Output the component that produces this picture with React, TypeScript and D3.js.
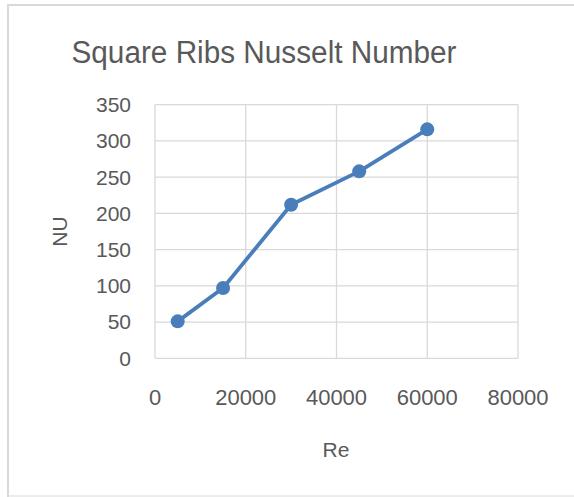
import React from "react";
import * as d3 from "d3";

const reValues = [5000, 15000, 30000, 45000, 60000];
const nuValues = [51, 97, 212, 258, 316];
const xTicks = [0, 20000, 40000, 60000, 80000];
const yTicks = [0, 50, 100, 150, 200, 250, 300, 350];
const title = "Square Ribs Nusselt Number";
const xTitle = "Re";
const yTitle = "NU";

const W = 574;
const H = 497;
const plot = { left: 155, right: 518, top: 104.7, bottom: 358.3 };
const grid = "#d9d9d9";
const textColor = "#595959";
const lineColor = "#4a7ebb";
const font = "'Liberation Sans', Arial, sans-serif";

export default function App() {
  const x = d3.scaleLinear().domain([0, 80000]).range([plot.left, plot.right]);
  const y = d3.scaleLinear().domain([0, 350]).range([plot.bottom, plot.top]);
  const pts = reValues.map((r, i) => [x(r), y(nuValues[i])] as [number, number]);
  const line = d3.line()(pts) || "";
  return (
    <svg
      width={W}
      height={H}
      style={{ position: "absolute", left: 0, top: 0, background: "#fff" }}
    >
      <rect x={0} y={0} width={W} height={H} fill="#fff" />
      <path d={`M8,${H + 5} V5 H${W + 5}`} fill="none" stroke={grid} strokeWidth={2} />
      <line x1={8} x2={W + 5} y1={496} y2={496} stroke={grid} strokeWidth={1} />
      <text
        x={264}
        y={63}
        fontFamily={font}
        fontSize={31}
        fill={textColor}
        textAnchor="middle"
        textLength={385}
        lengthAdjust="spacingAndGlyphs"
      >
        {title}
      </text>
      {yTicks.map((t) => (
        <line key={"gy" + t} x1={plot.left} x2={plot.right} y1={y(t)} y2={y(t)} stroke={grid} strokeWidth={1.3} />
      ))}
      {xTicks.map((t) => (
        <line key={"gx" + t} x1={x(t)} x2={x(t)} y1={plot.top} y2={plot.bottom} stroke={grid} strokeWidth={1.3} />
      ))}
      {yTicks.map((t) => (
        <text key={"ty" + t} x={131} y={y(t)} dy="0.35em" fontFamily={font} fontSize={21} fill={textColor} textAnchor="end">
          {t}
        </text>
      ))}
      {xTicks.map((t) => (
        <text key={"tx" + t} x={x(t)} y={405} fontFamily={font} fontSize={22} fill={textColor} textAnchor="middle">
          {t}
        </text>
      ))}
      <text x={336} y={457} fontFamily={font} fontSize={21} fill={textColor} textAnchor="middle">
        {xTitle}
      </text>
      <text
        transform={`translate(67,${(plot.top + plot.bottom) / 2}) rotate(-90)`}
        fontFamily={font}
        fontSize={21}
        fill={textColor}
        textAnchor="middle"
      >
        {yTitle}
      </text>
      <path d={line} fill="none" stroke={lineColor} strokeWidth={3.8} strokeLinejoin="round" />
      {pts.map((p, i) => (
        <circle key={i} cx={p[0]} cy={p[1]} r={7} fill={lineColor} />
      ))}
    </svg>
  );
}
